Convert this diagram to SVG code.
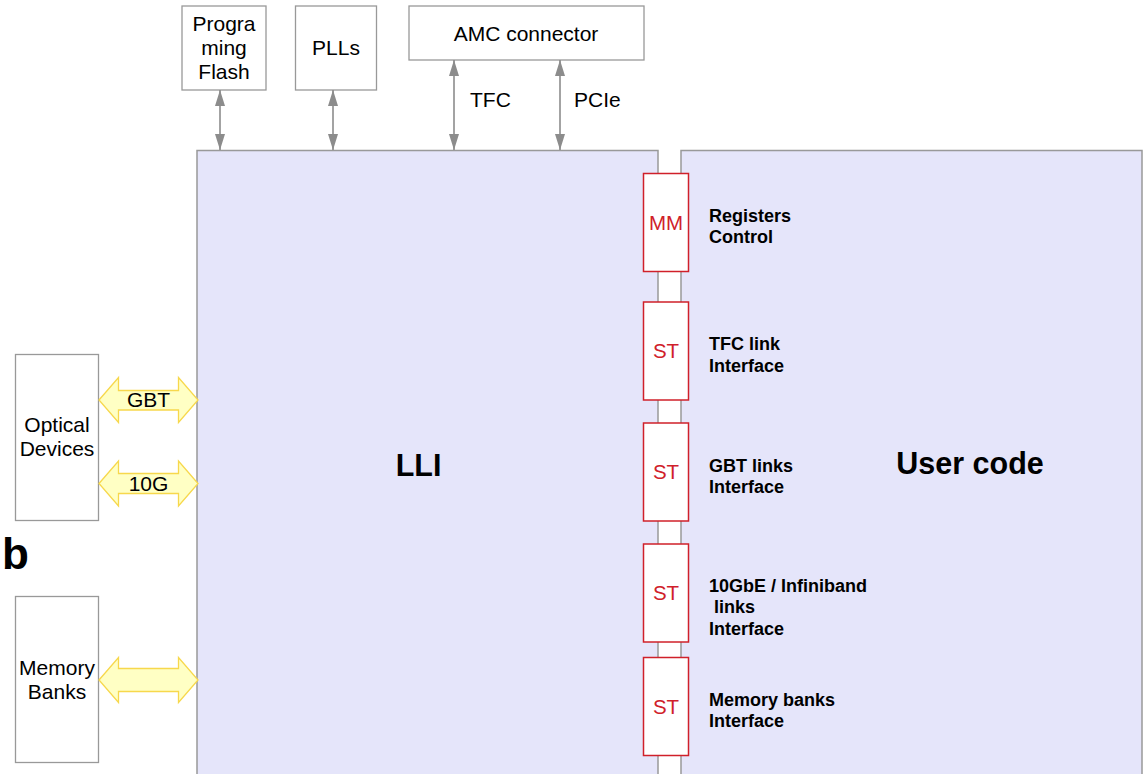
<svg xmlns="http://www.w3.org/2000/svg" width="1147" height="774" viewBox="0 0 1147 774">
<style>
.t{font-family:"Liberation Sans",Arial,sans-serif;font-size:21px;fill:#000}
.c{text-anchor:middle}
.lbl{font-family:"Liberation Sans",Arial,sans-serif;font-size:18px;font-weight:bold;fill:#000}
.big{font-family:"Liberation Sans",Arial,sans-serif;font-size:30.5px;font-weight:bold;fill:#000;text-anchor:middle}
.box{fill:#fff;stroke:#999;stroke-width:1.3}
.main{fill:#e5e5fa;stroke:#999;stroke-width:1.5}
.port{fill:#fff;stroke:#d0202a;stroke-width:1.5}
.pt{font-family:"Liberation Sans",Arial,sans-serif;font-size:20.5px;fill:#d0202a;text-anchor:middle}
.ln{stroke:#8c8c8c;stroke-width:1.6;fill:none;marker-start:url(#ah);marker-end:url(#ah)}
.ya{fill:#ffffc4;stroke:#f7d84c;stroke-width:1.3}
</style>
<defs>
<marker id="ah" viewBox="0 0 16 10" refX="16" refY="5" markerWidth="16" markerHeight="10" markerUnits="userSpaceOnUse" orient="auto-start-reverse">
<path d="M0,0 L16,5 L0,10 Z" fill="#8c8c8c"/>
</marker>
</defs>
<rect width="1147" height="774" fill="#fff"/>

<g id="lli">
<rect class="main" x="197" y="150.5" width="461" height="630"/>
<text class="big" x="418.5" y="476">LLI</text>
</g>
<g id="usercode">
<rect class="main" x="681" y="150.5" width="461" height="630"/>
<text class="big" x="970" y="474">User code</text>
</g>

<g id="flash">
<rect class="box" x="182" y="6" width="84" height="84"/>
<text class="t c" x="224" y="31">Progra</text>
<text class="t c" x="224" y="55">ming</text>
<text class="t c" x="224" y="79">Flash</text>
</g>
<g id="plls">
<rect class="box" x="295.5" y="6" width="81" height="84"/>
<text class="t c" x="336" y="55">PLLs</text>
</g>
<g id="amc">
<rect class="box" x="409" y="6" width="235" height="54"/>
<text class="t c" x="526" y="41">AMC connector</text>
</g>

<g id="optical">
<rect class="box" x="15.5" y="354.5" width="83" height="166"/>
<text class="t c" x="57" y="432">Optical</text>
<text class="t c" x="57" y="456">Devices</text>
</g>
<g id="memory">
<rect class="box" x="15.5" y="596.5" width="83" height="166"/>
<text class="t c" x="57" y="675">Memory</text>
<text class="t c" x="57" y="699">Banks</text>
</g>

<text id="b" x="2" y="569" style="font-family:'Liberation Sans',Arial,sans-serif;font-size:44px;font-weight:bold">b</text>

<g id="connectors">
<line class="ln" x1="220" y1="90" x2="220" y2="150"/>
<line class="ln" x1="333" y1="90" x2="333" y2="150"/>
<line class="ln" x1="454" y1="60" x2="454" y2="150"/>
<line class="ln" x1="560" y1="60" x2="560" y2="150"/>
<text class="t" x="470" y="107">TFC</text>
<text class="t" x="574" y="107">PCIe</text>
<path class="ya" d="M99,400 L118.5,377.5 L118.5,390.5 L178.5,390.5 L178.5,377.5 L198,400 L178.5,422.5 L178.5,410 L118.5,410 L118.5,422.5 Z"/>
<text class="t c" x="148.5" y="407">GBT</text>
<path class="ya" d="M99,483.5 L118.5,461 L118.5,473.5 L178.5,473.5 L178.5,461 L198,483.5 L178.5,506 L178.5,493.5 L118.5,493.5 L118.5,506 Z"/>
<text class="t c" x="148.5" y="491">10G</text>
<path class="ya" d="M99,680 L118.5,657.5 L118.5,668.5 L178.5,668.5 L178.5,657.5 L198,680 L178.5,702.5 L178.5,691.5 L118.5,691.5 L118.5,702.5 Z"/>
</g>

<g id="port-mm">
<rect class="port" x="643.5" y="173.5" width="45" height="98"/>
<text class="pt" x="666" y="230">MM</text>
<text class="lbl" x="709" y="222">Registers</text>
<text class="lbl" x="709" y="243">Control</text>
</g>
<g id="port-tfc">
<rect class="port" x="643.5" y="302" width="45" height="98"/>
<text class="pt" x="666" y="358">ST</text>
<text class="lbl" x="709" y="350">TFC link</text>
<text class="lbl" x="709" y="372">Interface</text>
</g>
<g id="port-gbt">
<rect class="port" x="643.5" y="423" width="45" height="98"/>
<text class="pt" x="666" y="479">ST</text>
<text class="lbl" x="709" y="472">GBT links</text>
<text class="lbl" x="709" y="493">Interface</text>
</g>
<g id="port-10g">
<rect class="port" x="643.5" y="544" width="45" height="98"/>
<text class="pt" x="666" y="600">ST</text>
<text class="lbl" x="709" y="592">10GbE / Infiniband</text>
<text class="lbl" x="714" y="613">links</text>
<text class="lbl" x="709" y="635">Interface</text>
</g>
<g id="port-mem">
<rect class="port" x="643.5" y="657.5" width="45" height="98"/>
<text class="pt" x="666" y="714">ST</text>
<text class="lbl" x="709" y="706">Memory banks</text>
<text class="lbl" x="709" y="727">Interface</text>
</g>
</svg>
